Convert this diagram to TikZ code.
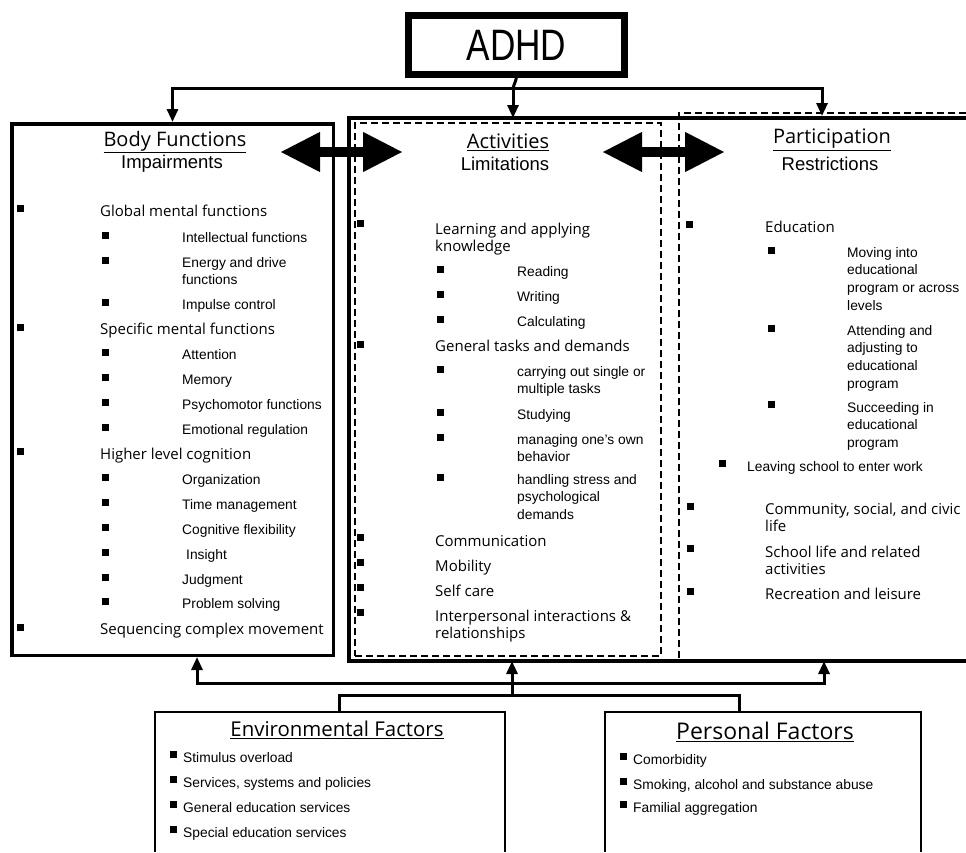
\documentclass[tikz,border=0pt]{standalone}
\usepackage{fontspec}
\usepackage{graphicx}
\setmainfont{Liberation Sans}
\newfontfamily\myr{Open Sans}
\usetikzlibrary{arrows.meta}

% square bullet at (x,y)
\newcommand{\sqb}[2]{\fill (#1-3.5,#2-3.5) rectangle ++(7,7);}
% lines of one item, baseline on the first line
\newcommand{\stack}[1]{\vtop{\halign{##\hfil\cr#1\crcr}}}

\tikzset{
  panel/.style={draw, line width=3.5pt, inner sep=0pt},
  actbox/.style={draw, line width=1.3pt, dash pattern=on 7pt off 4pt, inner sep=0pt},
  partline/.style={line width=1.3pt, dash pattern=on 7pt off 4pt},
  factor/.style={line width=2pt},
  link/.style={line width=3pt},
  linkarrow/.style={line width=3pt, -{Triangle[length=13pt,width=11pt]}},
  twoway/.style={line width=10pt, {Triangle[length=40pt,width=37pt]}-{Triangle[length=40pt,width=37pt]}},
  headA/.style={font=\myr\fontsize{20}{23}\selectfont, inner sep=0pt},
  headB/.style={font=\fontsize{18.5}{21}\selectfont, inner sep=0pt},
  lvlone/.style={font=\myr\fontsize{15}{17.5}\selectfont, anchor=base west, inner sep=0pt},
  lvltwo/.style={font=\fontsize{13.8}{17.7}\selectfont, anchor=base west, inner sep=0pt},
}

\begin{document}
\begin{tikzpicture}[x=1pt, y=-1pt]
    \useasboundingbox[fill=white] (0,0) rectangle (966,852);

    % top
    \node[draw, line width=7pt, minimum width=216pt, minimum height=59pt, inner sep=0pt,
          font=\fontsize{44}{48}\selectfont] (adhd) at (516.5,45) {\scalebox{0.8}[1]{ADHD}};

    % body functions
    \node[panel, minimum width=321.5pt, minimum height=531.5pt] (body) at (172.5,389.5) {};
    \node[headA] (bodyhead) at (175,142) {\underline{Body Functions}};
    \node[headB] (bodysub) at (172,164) {Impairments};

    \sqb{20}{208} \node[lvlone] (gmf) at (100,216) {Global mental functions};
    \sqb{105}{235} \node[lvltwo] (intel) at (182,242) {Intellectual functions};
    \sqb{105}{260} \node[lvltwo] (energy) at (182,267) {\stack{Energy and drive\cr functions}};
    \sqb{105}{302} \node[lvltwo] (impulse) at (182,309) {Impulse control};
    \sqb{20}{327} \node[lvlone] (smf) at (100,334) {Specific  mental functions};
    \sqb{105}{352} \node[lvltwo] (attn) at (182,359) {Attention};
    \sqb{105}{377} \node[lvltwo] (memory) at (182,384) {Memory};
    \sqb{105}{402} \node[lvltwo] (psycho) at (182,409) {Psychomotor functions};
    \sqb{105}{427} \node[lvltwo] (emo) at (182,434) {Emotional regulation};
    \sqb{20}{451} \node[lvlone] (hlc) at (100,459) {Higher level cognition};
    \sqb{105}{477} \node[lvltwo] (org) at (182,484) {Organization};
    \sqb{105}{502} \node[lvltwo] (time) at (182,509) {Time management};
    \sqb{105}{527} \node[lvltwo] (flex) at (182,534) {Cognitive flexibility};
    \sqb{105}{552} \node[lvltwo] (insight) at (186,559) {Insight};
    \sqb{105}{577} \node[lvltwo] (judg) at (182,584) {Judgment};
    \sqb{105}{601} \node[lvltwo] (prob) at (182,608) {Problem solving};
    \sqb{20}{627} \node[lvlone] (seq) at (100,634) {Sequencing complex movement};

    % activities and participation frame
    \coordinate (ftl) at (349,118);
    \coordinate (fbl) at (349,661);
    \coordinate (ftr) at (966,118);
    \coordinate (fbr) at (966,661);
    \draw[line width=3.5pt] (ftr) -- (ftl) -- (fbl) -- (fbr);
    \node[actbox, minimum width=306pt, minimum height=533pt] (act) at (508,389.5) {};
    \coordinate (ptl) at (679,113);
    \coordinate (ptr) at (966,113);
    \coordinate (pbl) at (679,661);
    \draw[partline] (ptr) -- (ptl) -- (pbl);

    \node[headA] (acthead) at (508,142) {\underline{Activities}};
    \node[headB] (actsub) at (505,164) {Limitations};

    \sqb{360}{223} \node[lvlone] (learn) at (435,234) {\stack{Learning and  applying\cr knowledge}};
    \sqb{440}{269} \node[lvltwo] (read) at (517,276) {Reading};
    \sqb{440}{294} \node[lvltwo] (write) at (517,301) {Writing};
    \sqb{440}{319} \node[lvltwo] (calc) at (517,326) {Calculating};
    \sqb{360}{344} \node[lvlone] (tasks) at (435,351) {General tasks and demands};
    \sqb{440}{369} \node[lvltwo] (carry) at (517,376) {\stack{carrying out single or\cr multiple tasks}};
    \sqb{440}{412} \node[lvltwo] (study) at (517,419) {Studying};
    \sqb{440}{437} \node[lvltwo] (manage) at (517,444) {\stack{managing  one's own\cr behavior}};
    \sqb{440}{477} \node[lvltwo] (stress) at (517,484) {\stack{handling stress and\cr psychological\cr demands}};
    \sqb{360}{537} \node[lvlone] (comm) at (435,546) {Communication};
    \sqb{360}{562} \node[lvlone] (mob) at (435,571) {Mobility};
    \sqb{360}{587} \node[lvlone] (self) at (435,596) {Self care};
    \sqb{360}{612} \node[lvlone] (inter) at (435,621) {\stack{Interpersonal interactions \&\cr relationships}};

    \node[headA] (parthead) at (832,140) {\underline{Participation}};
    \node[headB] (partsub) at (830,164) {Restrictions};

    \sqb{689}{224} \node[lvlone] (edu) at (765,232) {Education};
    \sqb{771}{250} \node[lvltwo] (moving) at (847,257) {\stack{Moving into\cr educational\cr program or across\cr levels}};
    \sqb{771}{328} \node[lvltwo] (attend) at (847,335) {\stack{Attending and\cr adjusting to\cr educational\cr program}};
    \sqb{771}{404} \node[lvltwo] (succeed) at (847,412) {\stack{Succeeding in\cr educational\cr program}};
    \sqb{722}{463} \node[lvltwo] (leave) at (747,471) {Leaving school to enter work};
    \sqb{690}{506} \node[lvlone] (civic) at (765,514) {\stack{Community, social, and civic\cr life}};
    \sqb{690}{548} \node[lvlone] (school) at (765,557) {\stack{School life and related\cr activities}};
    \sqb{690}{591} \node[lvlone] (recr) at (765,599) {Recreation and leisure};

    % two-way arrows
    \coordinate (bodyarr) at (280,152);
    \coordinate (actarrl) at (403,152);
    \coordinate (actarrr) at (602,152);
    \coordinate (partarr) at (725,152);
    \draw[twoway] (bodyarr) -- (actarrl);
    \draw[twoway] (actarrr) -- (partarr);

    % arrows from ADHD
    \coordinate (split) at (513,88);
    \coordinate (actdrop) at (513,118);
    \coordinate (partdrop) at (822,116);
    \draw[link] (adhd.south) -- (split);
    \draw[linkarrow] (split) -- (actdrop);
    \draw[linkarrow] (split) -| (body.north);
    \draw[linkarrow] (split) -| (partdrop);

    % contextual factors
    \coordinate (envsw) at (155,852);
    \coordinate (envnw) at (155,712);
    \coordinate (envne) at (505,712);
    \coordinate (envse) at (505,852);
    \draw[factor] (envsw) -- (envnw) -- (envne) -- (envse);
    \node[headA, font=\myr\fontsize{20.4}{23}\selectfont] (envhead) at (337,730) {\underline{Environmental Factors}};
    \sqb{173}{754} \node[lvltwo] (stim) at (183,762) {Stimulus overload};
    \sqb{173}{779} \node[lvltwo] (serv) at (183,787) {Services, systems and policies};
    \sqb{173}{804} \node[lvltwo] (gen) at (183,812) {General education services};
    \sqb{173}{829} \node[lvltwo] (spec) at (183,837) {Special education services};

    \coordinate (perssw) at (605,852);
    \coordinate (persnw) at (605,712);
    \coordinate (persne) at (921,712);
    \coordinate (persse) at (921,852);
    \draw[factor] (perssw) -- (persnw) -- (persne) -- (persse);
    \node[headA, font=\myr\fontsize{23}{26}\selectfont] (pershead) at (765,732) {\underline{Personal Factors}};
    \sqb{623}{756} \node[lvltwo] (comor) at (633,764) {Comorbidity};
    \sqb{623}{781} \node[lvltwo] (smoke) at (633,789) {Smoking, alcohol and substance abuse};
    \sqb{623}{804} \node[lvltwo] (fam) at (633,812) {Familial aggregation};

    % arrows from factors
    \coordinate (envdrop) at (339,712);
    \coordinate (persdrop) at (739,712);
    \coordinate (lowbar) at (512,695);
    \coordinate (upbar) at (512,683);
    \coordinate (bodyfoot) at (197,657);
    \coordinate (partfoot) at (824,661);
    \draw[link] (envdrop) |- (lowbar) -| (persdrop);
    \draw[linkarrow] (lowbar) -- (lowbar |- fbl);
    \draw[linkarrow] (upbar) -| (bodyfoot);
    \draw[linkarrow] (upbar) -| (partfoot);
\end{tikzpicture}
\end{document}
